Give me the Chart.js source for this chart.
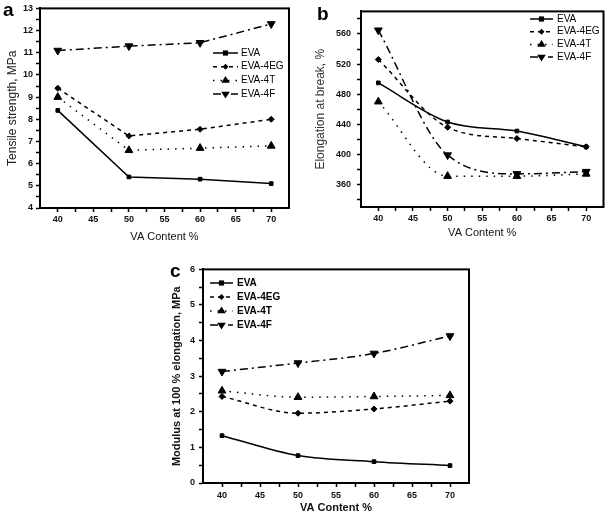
<!DOCTYPE html>
<html><head><meta charset="utf-8">
<script src="https://cdn.jsdelivr.net/npm/chart.js@4/dist/chart.umd.min.js"></script>
<style>
html,body{margin:0;padding:0;background:#fff;}
#wrap{position:relative;width:609px;height:518px;overflow:hidden;background:#fff;}
canvas{position:absolute;}
.lab{position:absolute;font:bold 19px Arial,"Liberation Sans",sans-serif;color:#000;line-height:1;}
</style></head><body>
<div id="wrap">
<canvas id="ca" width="300" height="260" style="left:0;top:0"></canvas>
<canvas id="cb" width="309" height="260" style="left:300px;top:0"></canvas>
<canvas id="cc" width="340" height="258" style="left:140px;top:260px"></canvas>
<div class="lab" style="left:3px;top:0px">a</div>
<div class="lab" style="left:317px;top:4px">b</div>
<div class="lab" style="left:170px;top:261px">c</div>
</div>
<script>
// ---- data ----
const vaContent = [40, 50, 60, 70];
const seriesNames = ['EVA', 'EVA-4EG', 'EVA-4T', 'EVA-4F'];

const tensileEVA = [8.4, 5.4, 5.3, 5.1];
const tensileEG  = [9.4, 7.25, 7.55, 8.0];
const tensileT   = [9.0, 6.6, 6.7, 6.8];
const tensileF   = [11.1, 11.3, 11.45, 12.3];

const elongEVA = [495, 443, 431, 410];
const elongEG  = [526, 436, 421, 410];
const elongT   = [470, 371, 371, 374];
const elongF   = [565, 399, 374, 377];

const modEVA = [1.33, 0.77, 0.6, 0.49];
const modEG  = [2.43, 1.96, 2.08, 2.3];
const modT   = [2.59, 2.41, 2.43, 2.46];
const modF   = [3.13, 3.37, 3.64, 4.13];

const xMajor = [40, 45, 50, 55, 60, 65, 70];
const xMinor = [42.5, 47.5, 52.5, 57.5, 62.5, 67.5];
const tensileMajor = [4, 5, 6, 7, 8, 9, 10, 11, 12, 13];
const tensileMinor = [4.5, 5.5, 6.5, 7.5, 8.5, 9.5, 10.5, 11.5, 12.5];
const elongMajor = [360, 400, 440, 480, 520, 560];
const elongMinor = [340, 380, 420, 460, 500, 540, 580];
const modMajor = [0, 1, 2, 3, 4, 5, 6];
const modMinor = [0.5, 1.5, 2.5, 3.5, 4.5, 5.5];

// ---- styles ----
const FONT = 'Arial, "Liberation Sans", sans-serif';
const seriesStyle = [
  {dash: [], pointStyle: 'rect', r: 2.6, rot: 0},
  {dash: [4, 4], pointStyle: 'rectRot', r: 3, rot: 0},
  {dash: [1.5, 6], pointStyle: 'triangle', r: 4.5, rot: 0},
  {dash: [8, 4, 2, 4], pointStyle: 'triangle', r: 4.5, rot: 180}
];

function makeDatasets(arrs, smooth) {
  return arrs.map((vals, i) => ({
    label: seriesNames[i],
    data: vaContent.map((x, j) => ({x: x, y: vals[j]})),
    borderColor: '#000', backgroundColor: '#000',
    borderWidth: 1.5, borderDash: seriesStyle[i].dash,
    pointStyle: seriesStyle[i].pointStyle, pointRadius: seriesStyle[i].r,
    pointRotation: seriesStyle[i].rot, pointBorderWidth: 1,
    pointBackgroundColor: '#000', pointBorderColor: '#000',
    cubicInterpolationMode: smooth ? 'monotone' : 'default', tension: 0, fill: false
  }));
}

function drawMarker(ctx, style, r, rot, x, y) {
  ctx.save();
  ctx.translate(x, y);
  ctx.rotate(rot * Math.PI / 180);
  ctx.fillStyle = '#000';
  ctx.beginPath();
  if (style === 'rect') {
    ctx.rect(-r, -r, 2 * r, 2 * r);
  } else if (style === 'rectRot') {
    ctx.moveTo(0, -r); ctx.lineTo(r, 0); ctx.lineTo(0, r); ctx.lineTo(-r, 0); ctx.closePath();
  } else {
    const h = r * 1.5;
    ctx.moveTo(0, -r); ctx.lineTo(r * 0.95, h - r); ctx.lineTo(-r * 0.95, h - r); ctx.closePath();
  }
  ctx.fill();
  ctx.restore();
}

const insideLegend = {
  id: 'insideLegend',
  afterDraw(chart, args, o) {
    const ctx = chart.ctx;
    ctx.save();
    chart.data.datasets.forEach((ds, i) => {
      const y = o.y0 + i * o.dy;
      ctx.strokeStyle = '#000'; ctx.lineWidth = 1.5;
      ctx.setLineDash(ds.borderDash || []);
      ctx.beginPath(); ctx.moveTo(o.x0, y); ctx.lineTo(o.x1, y); ctx.stroke();
      ctx.setLineDash([]);
      drawMarker(ctx, ds.pointStyle, ds.pointRadius, ds.pointRotation || 0, (o.x0 + o.x1) / 2, y);
      ctx.fillStyle = '#000'; ctx.font = o.font; ctx.textBaseline = 'middle'; ctx.textAlign = 'left';
      ctx.fillText(ds.label, o.tx, y);
    });
    ctx.restore();
  }
};
const frameBox = {
  id: 'frameBox',
  afterDraw(chart) {
    const a = chart.chartArea, ctx = chart.ctx;
    ctx.save(); ctx.strokeStyle = '#000'; ctx.lineWidth = 2;
    ctx.strokeRect(a.left, a.top, a.right - a.left, a.bottom - a.top);
    ctx.restore();
  }
};

function makeChart(id, datasets, cfg) {
  const xAll = xMajor.concat(xMinor).sort((a, b) => a - b);
  const yAll = cfg.yMajor.concat(cfg.yMinor).sort((a, b) => a - b);
  return new Chart(document.getElementById(id), {
    type: 'line',
    data: {datasets: datasets},
    options: {
      responsive: false, animation: false, devicePixelRatio: 1,
      layout: {padding: cfg.pad},
      plugins: {legend: {display: false}, tooltip: {enabled: false}, insideLegend: cfg.legend},
      scales: {
        x: {
          type: 'linear', min: 37.5, max: 72.5,
          afterBuildTicks: s => { s.ticks = xAll.map(v => ({value: v})); },
          afterFit: s => { s.height = cfg.xHeight; },
          ticks: {autoSkip: false, maxRotation: 0, padding: cfg.xTickPad, color: '#111',
            font: {family: FONT, size: 9, weight: 'bold'},
            callback: v => xMajor.includes(v) ? String(v) : ''},
          grid: {drawOnChartArea: false, drawTicks: true, tickLength: 4, tickColor: '#000', tickWidth: 1.5},
          border: {display: true, color: '#000', width: 2},
          title: {display: true, text: 'VA Content %', color: '#111',
            font: {family: FONT, size: 11, weight: cfg.xTitleWeight}, padding: {top: 0, bottom: cfg.xTitlePad}}
        },
        y: {
          type: 'linear', min: cfg.yMin, max: cfg.yMax,
          afterBuildTicks: s => { s.ticks = yAll.map(v => ({value: v})); },
          afterFit: s => { s.width = cfg.yWidth; },
          ticks: {autoSkip: false, padding: cfg.yTickPad, color: '#111',
            font: {family: FONT, size: 9, weight: 'bold'},
            callback: v => cfg.yMajor.includes(v) ? String(v) : ''},
          grid: {drawOnChartArea: false, drawTicks: true, tickLength: 4, tickColor: '#000', tickWidth: 1.5},
          border: {display: true, color: '#000', width: 2},
          title: {display: true, text: cfg.yTitle, color: cfg.yTitleColor,
            font: {family: FONT, size: cfg.yTitleSize, weight: cfg.yTitleWeight}, padding: {top: cfg.yTitlePad, bottom: 0}}
        }
      }
    },
    plugins: [insideLegend, frameBox]
  });
}

makeChart('ca', makeDatasets([tensileEVA, tensileEG, tensileT, tensileF], false), {
  pad: {left: 0, top: 5, right: 11, bottom: 0},
  xHeight: 52, xTickPad: 2, xTitlePad: 16, xTitleWeight: 'normal',
  yMin: 4, yMax: 13, yMajor: tensileMajor, yMinor: tensileMinor, yWidth: 40, yTickPad: 3,
  yTitle: 'Tensile strength, MPa', yTitleColor: '#222', yTitleSize: 12, yTitleWeight: 'normal', yTitlePad: 5,
  legend: {x0: 213, x1: 238, tx: 241, y0: 53, dy: 13.7, font: '10px ' + FONT}
});

makeChart('cb', makeDatasets([elongEVA, elongEG, elongT, elongF], true), {
  pad: {left: 0, top: 4, right: 2, bottom: 0},
  xHeight: 53, xTickPad: 2, xTitlePad: 20, xTitleWeight: 'normal',
  yMin: 330, yMax: 590, yMajor: elongMajor, yMinor: elongMinor, yWidth: 61, yTickPad: 6,
  yTitle: 'Elongation at break, %', yTitleColor: '#333', yTitleSize: 12, yTitleWeight: 'normal', yTitlePad: 13,
  legend: {x0: 230, x1: 253, tx: 257, y0: 19, dy: 12.7, font: '10px ' + FONT}
});

makeChart('cc', makeDatasets([modEVA, modEG, modT, modF], true), {
  pad: {left: 0, top: 9, right: 11, bottom: 0},
  xHeight: 35, xTickPad: 3, xTitlePad: 3, xTitleWeight: 'bold',
  yMin: 0, yMax: 6, yMajor: modMajor, yMinor: modMinor, yWidth: 63, yTickPad: 4,
  yTitle: 'Modulus at 100 % elongation, MPa', yTitleColor: '#111', yTitleSize: 11, yTitleWeight: 'bold', yTitlePad: 30,
  legend: {x0: 70, x1: 93, tx: 97, y0: 23, dy: 14, font: 'bold 10px ' + FONT}
});
</script>
</body></html>
